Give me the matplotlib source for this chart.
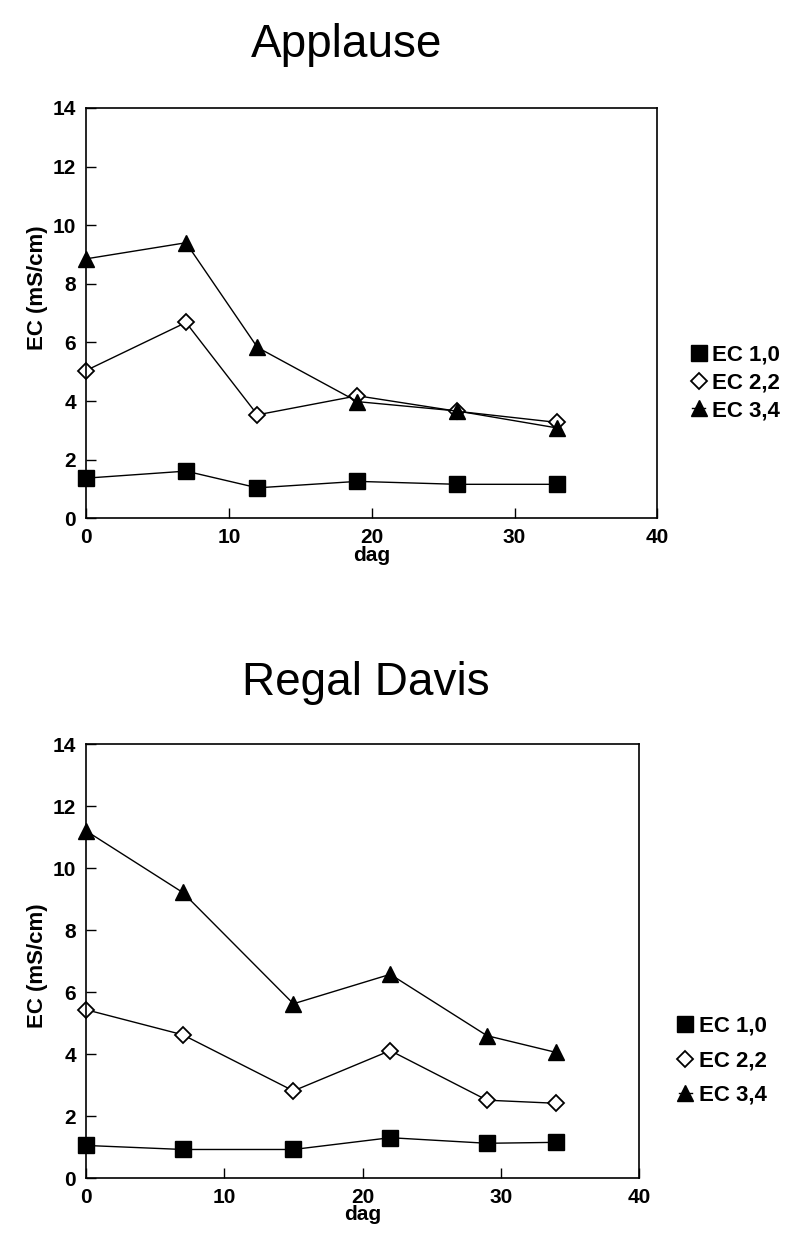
import matplotlib.pyplot as plt

plt.rcParams['font.family'] = ['Liberation Sans', 'DejaVu Sans']

# Applause
dag_a = [0, 7, 12, 19, 26, 33]
ec10_a = [1.37, 1.61, 1.04, 1.26, 1.16, 1.16]
ec22_a = [5.04, 6.68, 3.53, 4.18, 3.65, 3.27]
ec34_a = [8.85, 9.40, 5.83, 3.98, 3.66, 3.08]

# Regal Davis
dag_r = [0, 7, 15, 22, 29, 34]
ec10_r = [1.05, 0.92, 0.92, 1.30, 1.12, 1.15]
ec22_r = [5.43, 4.62, 2.81, 4.11, 2.51, 2.41]
ec34_r = [11.2, 9.21, 5.62, 6.57, 4.59, 4.05]

labels = ["EC 1,0", "EC 2,2", "EC 3,4"]
titles = ["Applause", "Regal Davis"]
xticks = [0, 10, 20, 30, 40]
yticks = [0, 2, 4, 6, 8, 10, 12, 14]

fig = plt.figure(figsize=(7.96, 12.4), dpi=100)
ax1 = fig.add_axes([0.108, 0.582, 0.718, 0.331])
ax2 = fig.add_axes([0.108, 0.050, 0.695, 0.350])

def draw(ax, x, s1, s2, s3):
    ax.plot(x, s1, color='k', lw=1.0, marker='s', ms=12, mfc='k', mec='k', label=labels[0])
    ax.plot(x, s2, color='k', lw=1.0, marker='D', ms=8, mfc='white', mec='k', mew=1.3, label=labels[1])
    ax.plot(x, s3, color='k', lw=1.0, marker='^', ms=12, mfc='k', mec='k', label=labels[2])
    ax.set_xlim(0, 40)
    ax.set_ylim(0, 14)
    ax.set_xticks(xticks)
    ax.set_yticks(yticks)
    ax.tick_params(direction='in', length=7, width=1, labelsize=15, pad=7)
    for t in ax.get_xticklabels() + ax.get_yticklabels():
        t.set_fontweight('bold')
    for s in ax.spines.values():
        s.set_linewidth(1.2)
    ax.set_xlabel("dag", fontsize=15, fontweight='bold', labelpad=-1)
    ax.set_ylabel("EC (mS/cm)", fontsize=16, fontweight='bold')
    for line in ax.get_lines():
        line.set_clip_on(False)

draw(ax1, dag_a, ec10_a, ec22_a, ec34_a)
draw(ax2, dag_r, ec10_r, ec22_r, ec34_r)
ax1.yaxis.set_label_coords(-0.067, 0.563)
ax2.yaxis.set_label_coords(-0.069, 0.49)

leg_kw = dict(frameon=False, prop={'weight': 'bold', 'size': 16},
              handlelength=0.6, handletextpad=0.3, borderaxespad=0)
ax1.legend(loc='center left', bbox_to_anchor=(1.045, 0.33), labelspacing=0.3, **leg_kw)
ax2.legend(loc='center left', bbox_to_anchor=(1.055, 0.27), labelspacing=0.6, **leg_kw)

fig.text(0.435, 0.954, titles[0], fontsize=33, ha='center', va='baseline')
fig.text(0.46, 1 - 695 / 1240, titles[1], fontsize=33, ha='center', va='baseline')

fig.savefig("out.png", dpi=100)
